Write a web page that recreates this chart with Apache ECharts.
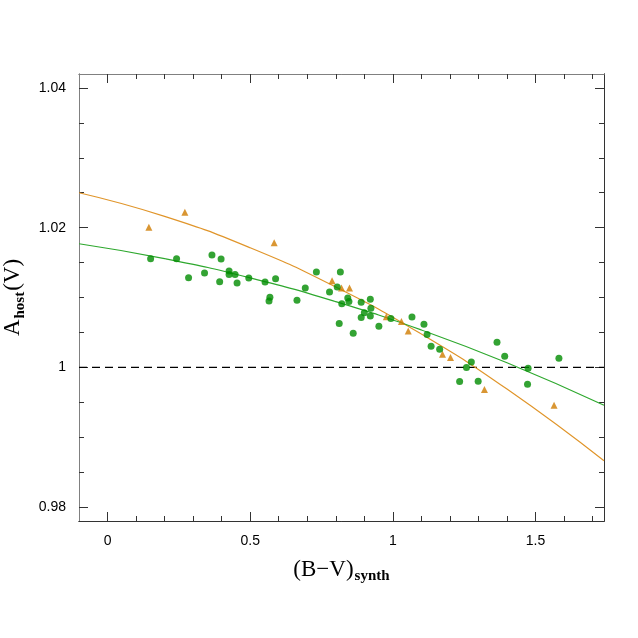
<!DOCTYPE html>
<html><head><meta charset="utf-8">
<script src="https://cdn.jsdelivr.net/npm/echarts@6/dist/echarts.min.js"></script>
<style>html,body{margin:0;padding:0;background:#fff}#c{width:638px;height:638px}</style>
</head><body><div id="c"></div>
<script>
// Green circles (data)
const greenX = [0.151,0.242,0.284,0.340,0.366,0.398,0.393,0.426,0.426,0.447,0.454,0.495,0.552,0.589,0.569,0.566,0.664,0.693,0.732,0.778,0.805,0.816,0.821,0.812,0.842,0.846,0.861,0.889,0.900,0.889,0.921,0.923,0.921,0.951,0.993,1.067,1.109,1.120,1.134,1.164,1.275,1.258,1.234,1.299,1.365,1.392,1.474,1.472,1.582];
const greenY = [1.01555,1.01555,1.01284,1.01350,1.01607,1.01550,1.01227,1.01378,1.01330,1.01330,1.01207,1.01278,1.01221,1.01269,1.01002,1.00949,1.00959,1.01135,1.01364,1.01078,1.01149,1.01364,1.00912,1.00626,1.00992,1.00941,1.00487,1.00931,1.00783,1.00712,1.00974,1.00845,1.00735,1.00588,1.00698,1.00720,1.00616,1.00469,1.00302,1.00259,1.00077,0.99997,0.99797,0.99801,1.00359,1.00159,0.99987,0.99758,1.00130];
// Orange triangles (data)
const orangeX = [0.145,0.271,0.584,0.787,0.820,0.848,0.977,1.030,1.054,1.174,1.202,1.321,1.565];
const orangeY = [1.02007,1.02222,1.01784,1.01241,1.01135,1.01135,1.00726,1.00655,1.00520,1.00187,1.00140,0.99683,0.99458];
// Fit curves
const curveX = [-0.1,0.2,0.5,0.8,1.1,1.4,1.74];
const greenCurveY = [1.0177,1.01557,1.01281,1.00940,1.00535,1.00066,0.99458];
const orangeCurveY = [1.0250,1.02162,1.01712,1.01150,1.00476,0.99689,0.98662];
// Reference line
const refX = [-0.1,1.74];
const refY = [1,1];
// Axis ticks
const xMajor = [0,0.5,1,1.5];
const xMinor = [0.1,0.2,0.3,0.4,0.6,0.7,0.8,0.9,1.1,1.2,1.3,1.4,1.6,1.7];
const yMajor = [0.98,1,1.02,1.04];
const yMinor = [0.985,0.99,0.995,1.005,1.01,1.015,1.025,1.03,1.035];
const xRange = [-0.1,1.74];
const yRange = [0.978,1.042];

const zip = (a,b)=>a.map((v,i)=>[v,b[i]]);
const dark = '#333', light = '#808080';
const labelFont = 'Liberation Sans, Arial, sans-serif';
const serif = 'Liberation Serif, Times New Roman, serif';
function mkAxis(kind, grid, pos, ticks, len, labels, lineColor){
  const r = kind==='x' ? xRange : yRange;
  return {type:'value', gridIndex:grid, position:pos, min:r[0], max:r[1],
    axisLine:{show:true, onZero:false, lineStyle:{color:lineColor, width:1}},
    axisTick:{show:true, inside:true, length:len, customValues:ticks, lineStyle:{color:dark,width:1}},
    axisLabel:{show:labels, customValues:ticks, margin:13, fontSize:14, color:'#000', fontFamily:labelFont,
      formatter:v=>String(+(+v).toFixed(2))},
    splitLine:{show:false}};
}
const xAxes = [
  mkAxis('x',0,'bottom',xMajor,9,true,dark),
  mkAxis('x',0,'top',xMajor,9,false,light),
  mkAxis('x',1,'bottom',xMinor,5,false,dark),
  mkAxis('x',1,'top',xMinor,5,false,light)
];
const yAxes = [
  mkAxis('y',0,'left',yMajor,9,true,light),
  mkAxis('y',0,'right',yMajor,9,false,dark),
  mkAxis('y',1,'left',yMinor,5,false,light),
  mkAxis('y',1,'right',yMinor,5,false,dark)
];
xAxes[0].name = '{a|(B\u2212V)}{b|synth}';
xAxes[0].nameLocation = 'middle';
xAxes[0].nameGap = 34;
xAxes[0].nameTextStyle = {rich:{a:{fontSize:23, fontFamily:serif, color:'#000'},
  b:{fontSize:15, fontFamily:serif, fontWeight:'bold', color:'#000', padding:[14,0,0,1]}}};
yAxes[0].name = '{a|A}{b|host}{a|(V)}';
yAxes[0].nameLocation = 'middle';
yAxes[0].nameGap = 49;
yAxes[0].nameRotate = 90;
yAxes[0].nameTextStyle = {rich:{a:{fontSize:23, fontFamily:serif, color:'#000'},
  b:{fontSize:15, fontFamily:serif, fontWeight:'bold', color:'#000', padding:[14,1,0,1]}}};

const gridRect = {left:79, top:74, right:34, bottom:117, containLabel:false, outerBoundsMode:'none'};
const chart = echarts.init(document.getElementById('c'), null, {renderer:'canvas'});
chart.setOption({
  animation:false,
  backgroundColor:'#fff',
  grid:[Object.assign({}, gridRect), Object.assign({}, gridRect)],
  xAxis: xAxes,
  yAxis: yAxes,
  series:[
    {type:'line', xAxisIndex:0, yAxisIndex:0, data:zip(refX,refY), symbol:'none', lineStyle:{color:'#000', width:1.3, type:[8,5]}, z:1},
    {type:'line', xAxisIndex:0, yAxisIndex:0, data:zip(curveX,orangeCurveY), symbol:'none', smooth:true, lineStyle:{color:'#e0952a', width:1.2}, z:2},
    {type:'line', xAxisIndex:0, yAxisIndex:0, data:zip(curveX,greenCurveY), symbol:'none', smooth:true, lineStyle:{color:'#2ea82e', width:1.2}, z:2},
    {type:'scatter', xAxisIndex:0, yAxisIndex:0, data:zip(orangeX,orangeY), symbol:'triangle', symbolSize:7, itemStyle:{color:'#d07c00'}, z:3},
    {type:'scatter', xAxisIndex:0, yAxisIndex:0, data:zip(greenX,greenY), symbol:'circle', symbolSize:7, itemStyle:{color:'#008c00'}, z:4}
  ]
});
</script>
</body></html>
